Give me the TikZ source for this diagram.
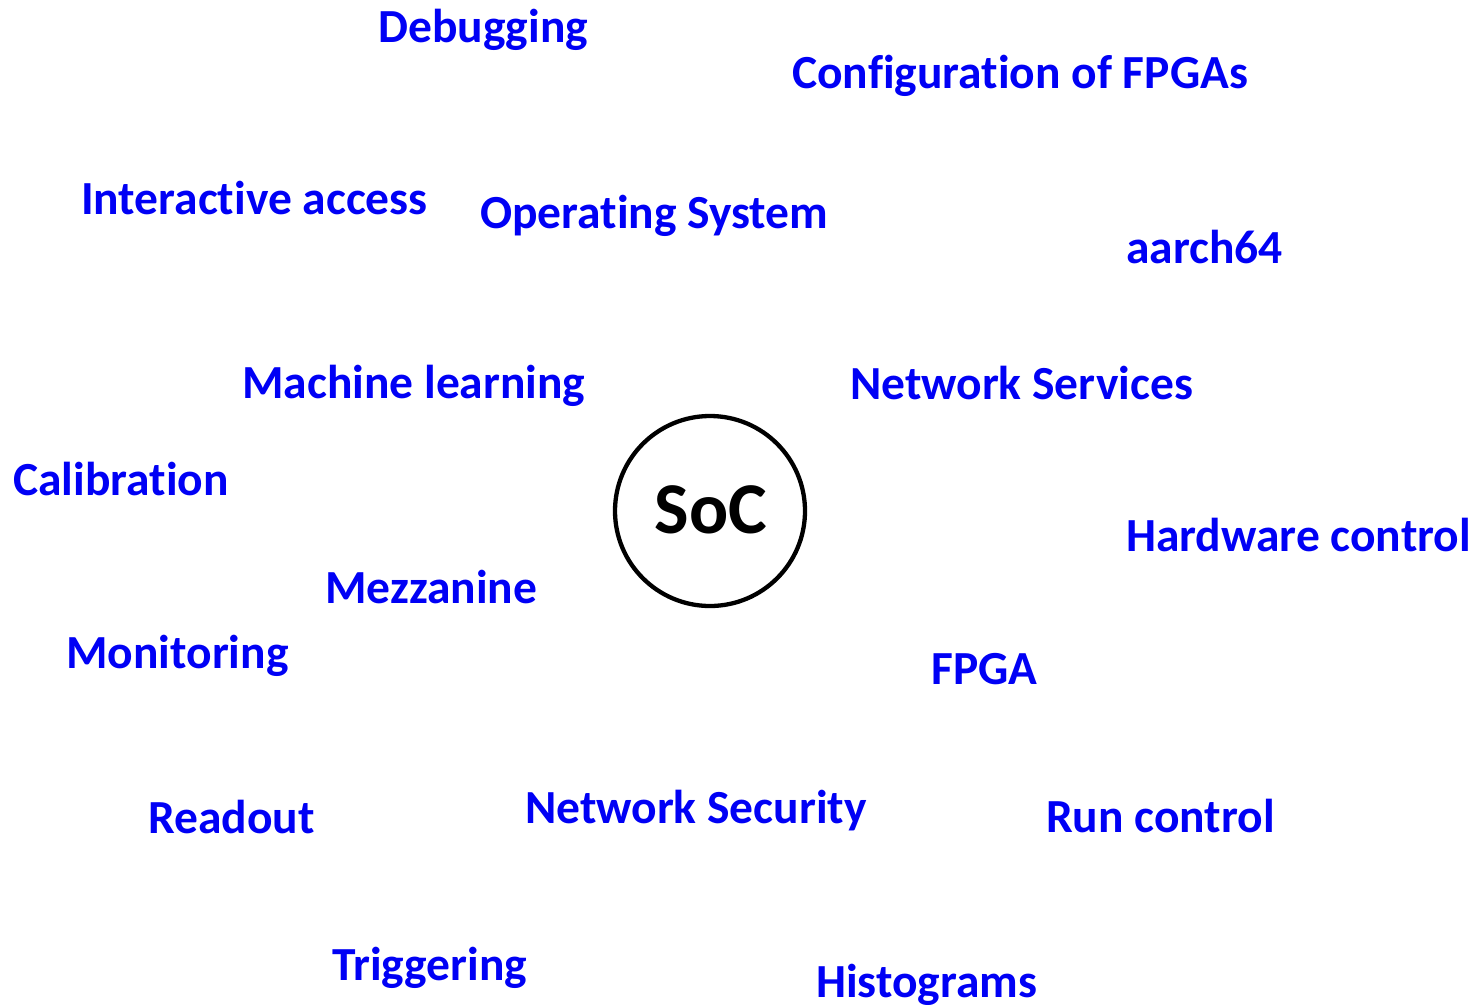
\documentclass[tikz,border=0pt]{standalone}
\usepackage{fontspec}
\setmainfont{Carlito}[RawFeature={-liga}]
\definecolor{lblblue}{RGB}{0,0,245}
\begin{document}
\begin{tikzpicture}[x=1pt,y=-1pt,
  lbl/.style={anchor=base west,inner sep=0pt,text=lblblue,font=\fontsize{47.5}{52}\selectfont\bfseries},
  soc/.style={circle,draw=black,line width=4.3pt,minimum size=190pt,inner sep=0pt}]
\useasboundingbox (0,0) rectangle (1482,1004);
\node[soc] (socc) at (710,511) {};
\node[anchor=base,inner sep=0pt,font=\fontsize{73}{76}\selectfont\bfseries] (soct) at (711,533) {SoC};
\node[lbl] (dbg) at (378,42) {Debugging};
\node[lbl] (cfg) at (792,88) {Configuration of FPGAs};
\node[lbl] (ia) at (81,214) {Interactive access};
\node[lbl] (os) at (480,228) {Operating System};
\node[lbl] (arch) at (1126,263) {aarch64};
\node[lbl] (ml) at (242,398) {Machine learning};
\node[lbl] (ns) at (850,399) {Network Services};
\node[lbl] (cal) at (13,495) {Calibration};
\node[lbl] (hw) at (1126,551) {Hardware control};
\node[lbl] (mez) at (325,603) {Mezzanine};
\node[lbl] (mon) at (66,668) {Monitoring};
\node[lbl] (fpga) at (931,684) {FPGA};
\node[lbl] (ro) at (148,833) {Readout};
\node[lbl] (nsec) at (525,823) {Network Security};
\node[lbl] (rc) at (1046,832) {Run control};
\node[lbl] (trg) at (332,980) {Triggering};
\node[lbl] (hist) at (816,997) {Histograms};
\end{tikzpicture}
\end{document}
